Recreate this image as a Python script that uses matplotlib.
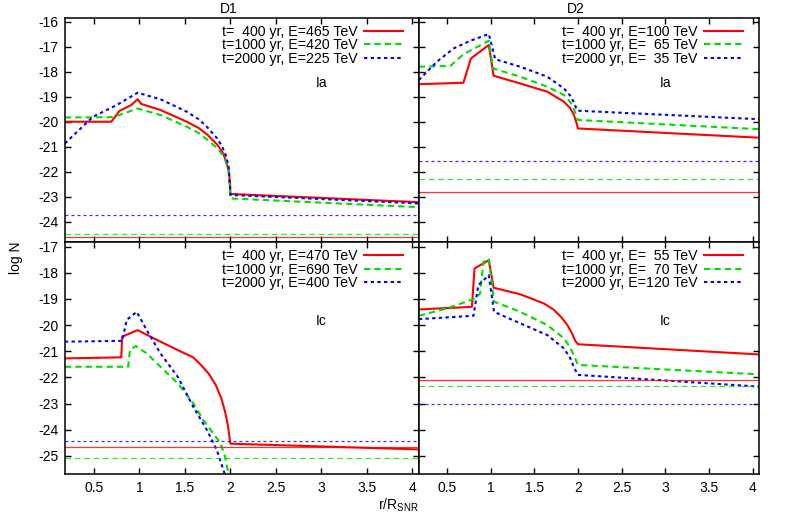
import numpy as np
import matplotlib
matplotlib.use("Agg")
import matplotlib.pyplot as plt

plt.rcParams['font.family'] = ['Liberation Sans', 'DejaVu Sans']
plt.rcParams['mathtext.fontset'] = 'custom'
plt.rcParams['mathtext.rm'] = 'Liberation Sans'
plt.rcParams['mathtext.it'] = 'Liberation Sans'
plt.rcParams['axes.unicode_minus'] = False

# ---- data (x = r/R_SNR, y = log N) ----
# D1, Ia
d1a_red_x = [0.18, 0.69, 0.78, 0.91, 0.98, 1.02, 1.23, 1.52, 1.65, 1.74, 1.85, 1.91, 1.95, 1.98, 1.995, 2.0, 4.08]
d1a_red_y = [-20.0, -20.0, -19.57, -19.33, -19.1, -19.29, -19.53, -20.0, -20.25, -20.5, -20.9, -21.2, -21.55, -21.95, -22.4, -22.89, -23.22]
d1a_grn_x = [0.18, 0.68, 0.78, 0.98, 1.23, 1.52, 1.65, 1.74, 1.85, 1.91, 1.95, 1.98, 2.0, 4.08]
d1a_grn_y = [-19.83, -19.82, -19.73, -19.47, -19.73, -20.2, -20.45, -20.7, -21.05, -21.3, -21.6, -22.0, -23.07, -23.42]
d1a_blu_x = [0.18, 0.49, 0.75, 0.98, 1.23, 1.52, 1.65, 1.74, 1.85, 1.91, 1.95, 1.98, 2.0, 4.08]
d1a_blu_y = [-20.87, -19.8, -19.33, -18.84, -19.1, -19.6, -19.9, -20.2, -20.65, -21.0, -21.35, -21.8, -22.93, -23.27]
d1a_levels = [-24.62, -24.48, -23.73]
d1a_labels = ["t=  400 yr, E=465 TeV", "t=1000 yr, E=420 TeV", "t=2000 yr, E=225 TeV"]

# D2, Ia
d2a_red_x = [0.18, 0.69, 0.775, 0.98, 1.035, 1.34, 1.65, 1.84, 1.91, 1.95, 1.98, 2.0, 4.08]
d2a_red_y = [-18.5, -18.44, -17.47, -16.93, -18.16, -18.47, -18.8, -19.2, -19.45, -19.7, -20.0, -20.27, -20.64]
d2a_grn_x = [0.18, 0.54, 0.69, 0.98, 1.03, 1.34, 1.65, 1.84, 1.91, 1.95, 1.98, 2.0, 4.08]
d2a_grn_y = [-17.8, -17.77, -17.3, -16.76, -17.87, -18.2, -18.6, -18.93, -19.2, -19.45, -19.75, -19.93, -20.3]
d2a_blu_x = [0.18, 0.386, 0.576, 0.77, 0.98, 1.054, 1.34, 1.65, 1.84, 1.91, 1.95, 1.98, 2.0, 4.08]
d2a_blu_y = [-18.33, -17.6, -17.07, -16.76, -16.49, -17.5, -17.8, -18.2, -18.67, -18.95, -19.2, -19.45, -19.56, -19.9]
d2a_levels = [-22.81, -22.29, -21.58]
d2a_labels = ["t=  400 yr, E=100 TeV", "t=1000 yr, E=  65 TeV", "t=2000 yr, E=  35 TeV"]

# D1, Ic
d1c_red_x = [0.18, 0.80, 0.81, 0.98, 1.23, 1.45, 1.59, 1.67, 1.76, 1.84, 1.90, 1.94, 1.97, 1.99, 2.0, 4.08]
d1c_red_y = [-21.27, -21.23, -20.44, -20.19, -20.63, -21.0, -21.23, -21.5, -21.85, -22.3, -22.8, -23.3, -23.8, -24.3, -24.53, -24.75]
d1c_grn_x = [0.18, 0.876, 0.895, 0.96, 1.08, 1.23, 1.42, 1.59, 1.70, 1.81, 1.89, 1.94, 1.98, 2.0]
d1c_grn_y = [-21.59, -21.59, -20.95, -20.8, -21.08, -21.59, -22.22, -22.98, -23.62, -24.13, -24.51, -25.02, -25.72, -26.5]
d1c_blu_x = [0.18, 0.81, 0.86, 0.97, 1.08, 1.23, 1.42, 1.59, 1.74, 1.85, 1.94, 1.97]
d1c_blu_y = [-20.63, -20.6, -19.8, -19.49, -20.19, -21.08, -21.97, -23.11, -24.0, -24.77, -25.72, -26.2]
d1c_levels = [-24.64, -25.08, -24.42]
d1c_labels = ["t=  400 yr, E=470 TeV", "t=1000 yr, E=690 TeV", "t=2000 yr, E=400 TeV"]

# D2, Ic
d2c_red_x = [0.18, 0.787, 0.817, 0.98, 1.035, 1.34, 1.61, 1.72, 1.81, 1.88, 1.93, 1.97, 2.0, 4.08]
d2c_red_y = [-19.4, -19.3, -17.83, -17.52, -18.57, -18.82, -19.17, -19.4, -19.7, -20.0, -20.3, -20.6, -20.73, -21.12]
d2c_grn_x = [0.18, 0.5, 0.825, 0.88, 0.92, 0.98, 1.04, 1.34, 1.65, 1.84, 1.91, 1.96, 2.0, 4.08]
d2c_grn_y = [-19.64, -19.36, -18.98, -18.79, -17.58, -17.45, -19.1, -19.49, -20.0, -20.5, -20.85, -21.2, -21.52, -21.88]
d2c_blu_x = [0.18, 0.805, 0.86, 0.98, 1.04, 1.34, 1.65, 1.84, 1.91, 1.96, 2.0, 4.08]
d2c_blu_y = [-19.77, -19.64, -18.47, -18.09, -19.49, -19.93, -20.38, -20.89, -21.25, -21.65, -21.9, -22.35]
d2c_levels = [-22.1, -22.33, -23.0]
d2c_labels = ["t=  400 yr, E=  55 TeV", "t=1000 yr, E=  70 TeV", "t=2000 yr, E=120 TeV"]

xticks = [0.5, 1, 1.5, 2, 2.5, 3, 3.5, 4]
xticklabels = ['0.5', '1', '1.5', '2', '2.5', '3', '3.5', '4']
yticks_top = [-16, -17, -18, -19, -20, -21, -22, -23, -24]
yticks_bot = [-17, -18, -19, -20, -21, -22, -23, -24, -25]

RED, GRN, BLU = '#ff0000', '#00dd00', '#0000ff'
styles = [dict(color=RED, ls='-'),
          dict(color=GRN, dashes=(3, 2)),
          dict(color=BLU, dashes=(1.6, 1.6))]
thin = [dict(color=RED, ls='-', alpha=0.8),
        dict(color=GRN, dashes=(4.5, 3), alpha=0.8),
        dict(color=BLU, dashes=(2.4, 2.4), alpha=0.8)]

W, H = 789, 518
fig = plt.figure(figsize=(W / 100, H / 100), dpi=100)

xl, xm, xr = 65.3 / W, 419.3 / W, 759.3 / W
yt, ym, yb = 1 - 17.5 / H, 1 - 241.7 / H, 1 - 474.3 / H

panels = [
    (xl, ym, xm - xl, yt - ym, (-24.8, -15.83), yticks_top,
     [(d1a_red_x, d1a_red_y), (d1a_grn_x, d1a_grn_y), (d1a_blu_x, d1a_blu_y)],
     d1a_levels, d1a_labels, "Ia", -18.44, True, False, "D1"),
    (xm, ym, xr - xm, yt - ym, (-24.8, -15.83), yticks_top,
     [(d2a_red_x, d2a_red_y), (d2a_grn_x, d2a_grn_y), (d2a_blu_x, d2a_blu_y)],
     d2a_levels, d2a_labels, "Ia", -18.44, False, False, "D2"),
    (xl, yb, xm - xl, ym - yb, (-25.7, -16.81), yticks_bot,
     [(d1c_red_x, d1c_red_y), (d1c_grn_x, d1c_grn_y), (d1c_blu_x, d1c_blu_y)],
     d1c_levels, d1c_labels, "Ic", -19.83, True, True, None),
    (xm, yb, xr - xm, ym - yb, (-25.7, -16.81), yticks_bot,
     [(d2c_red_x, d2c_red_y), (d2c_grn_x, d2c_grn_y), (d2c_blu_x, d2c_blu_y)],
     d2c_levels, d2c_labels, "Ic", -19.83, False, True, None),
]

for (x0, y0, w, h, ylim, yticks, curves, levels, labels, tag, tagy,
     ylab, xlab, title) in panels:
    ax = fig.add_axes([x0, y0, w, h])
    handles = []
    for (cx, cy), st, lab in zip(curves, styles, labels):
        ln, = ax.plot(cx, cy, lw=1.5, label=lab, **st)
        handles.append(ln)
    for lev, st in zip(levels, thin):
        ax.axhline(lev, lw=0.9, **st)
    ax.set_xlim(0.185, 4.075)
    ax.set_ylim(*ylim)
    ax.set_xticks(xticks)
    ax.set_yticks(yticks)
    ax.tick_params(direction='in', top=True, right=True, length=4.5, width=1,
                   labelsize=10, pad=5)
    if not ylab:
        ax.set_yticklabels([])
    if not xlab:
        ax.set_xticklabels([])
    else:
        ax.set_xticklabels(xticklabels)
    for s in ax.spines.values():
        s.set_linewidth(1.1)
    ax.text(3.0, tagy, tag, fontsize=10, ha='center', va='center')
    if title:
        ax.text(1.98, 1.008, title, transform=ax.get_xaxis_transform(),
                ha='center', va='bottom', fontsize=10)
    # shift legend a little inward from the right frame
    ax.legend(handles=handles, loc='upper right', frameon=False, fontsize=10.2,
              markerfirst=False, handlelength=2.75, handletextpad=0.5,
              labelspacing=-0.04, borderaxespad=0.15, borderpad=0.2,
              bbox_to_anchor=(1 - 11 / (w * W), 1 - 2.5 / (h * H)))

fig.text(16 / W, 1 - 258 / H, "log N", rotation=90, ha='center', va='center',
         fontsize=10)
fig.text(398 / W, 1 - 505 / H, r"r/R$_{\mathrm{SNR}}$", ha='center',
         va='center', fontsize=10)

fig.savefig("out.png", dpi=100)
